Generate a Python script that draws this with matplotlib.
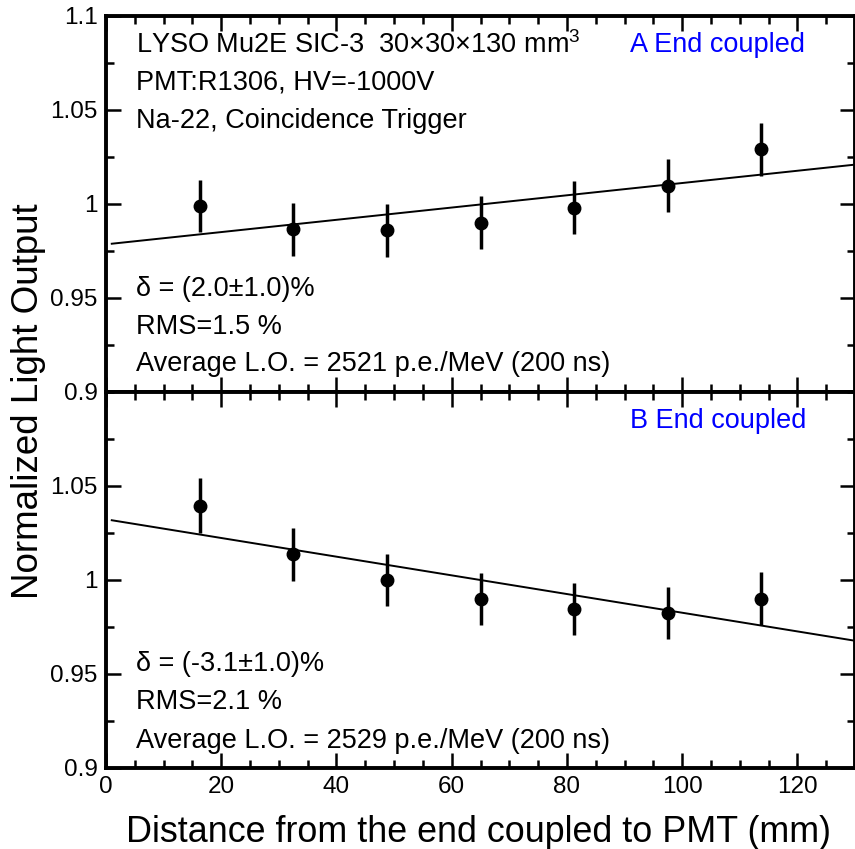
import matplotlib
matplotlib.use('Agg')
import matplotlib.pyplot as plt
from matplotlib.ticker import MultipleLocator, FuncFormatter
import numpy as np

plt.rcParams['font.family'] = ['Liberation Sans', 'DejaVu Sans']
plt.rcParams['mathtext.fontset'] = 'custom'
plt.rcParams['mathtext.rm'] = 'Liberation Sans'

# measurement positions (mm) and normalized light output
distance = [16.25, 32.5, 48.75, 65.0, 81.25, 97.5, 113.75]
lo_a = [0.999, 0.9865, 0.986, 0.990, 0.998, 1.0097, 1.029]
err_a = [0.014, 0.014, 0.014, 0.014, 0.014, 0.014, 0.014]
lo_b = [1.0395, 1.0136, 1.0, 0.9898, 0.9845, 0.9824, 0.9901]
err_b = [0.0145, 0.014, 0.014, 0.014, 0.014, 0.014, 0.014]

header_lines = ['LYSO Mu2E SIC-3  30\u00d730\u00d7130 mm$^3$',
                'PMT:R1306, HV=-1000V',
                'Na-22, Coincidence Trigger']
stats_a = ['\u03b4 = (2.0\u00b11.0)%', 'RMS=1.5 %',
           'Average L.O. = 2521 p.e./MeV (200 ns)']
stats_b = ['\u03b4 = (-3.1\u00b11.0)%', 'RMS=2.1 %',
           'Average L.O. = 2529 p.e./MeV (200 ns)']

fig = plt.figure(figsize=(8.55, 8.49), dpi=100)
left, right = 106 / 855, 1.0
ax_a = fig.add_axes([left, 1 - 392 / 849, right - left, 376 / 849])
ax_b = fig.add_axes([left, 1 - 768 / 849, right - left, 376 / 849], sharex=ax_a)

fmt = FuncFormatter(lambda v, p: f'{v:g}')

for ax, lo, err in [(ax_a, lo_a, err_a), (ax_b, lo_b, err_b)]:
    ax.errorbar(distance, lo, yerr=err, fmt='o', color='black', ms=9,
                elinewidth=2.5, capsize=0, zorder=3)
    # straight-line fit through the points
    k, b = np.polyfit(distance, lo, 1)
    xs = np.array([1.0, 130.0])
    ax.plot(xs, k * xs + b, color='black', lw=1.4, zorder=2)

    ax.set_xlim(0, 130)
    ax.set_ylim(0.9, 1.1)
    ax.xaxis.set_major_locator(MultipleLocator(20))
    ax.xaxis.set_minor_locator(MultipleLocator(5))
    ax.yaxis.set_major_locator(MultipleLocator(0.05))
    ax.yaxis.set_minor_locator(MultipleLocator(0.025))
    ax.yaxis.set_major_formatter(fmt)
    ax.tick_params(which='both', direction='in', top=True, right=True,
                   width=1.8, labelsize=17.5, colors='black')
    ax.tick_params(which='major', length=11, pad=6)
    ax.tick_params(which='minor', length=6)
    for s in ax.spines.values():
        s.set_linewidth(2.8)

ax_a.tick_params(axis='x', labelbottom=False)
ax_b.set_yticks([0.9, 0.95, 1.0, 1.05])

for t, y in zip(header_lines, [0.923, 0.824, 0.721]):
    ax_a.text(0.04, y, t, transform=ax_a.transAxes, fontsize=19.5, va='center')
for t, y in zip(stats_a, [0.274, 0.173, 0.074]):
    ax_a.text(0.04, y, t, transform=ax_a.transAxes, fontsize=19.5, va='center')
for t, y in zip(stats_b, [0.277, 0.176, 0.072]):
    ax_b.text(0.04, y, t, transform=ax_b.transAxes, fontsize=19.5, va='center')

ax_a.text(0.70, 0.923, 'A End coupled', transform=ax_a.transAxes,
          fontsize=19.5, va='center', color='#0000ff')
ax_b.text(0.70, 0.923, 'B End coupled', transform=ax_b.transAxes,
          fontsize=19.5, va='center', color='#0000ff')

fig.text(28 / 855, 1 - 401 / 849, 'Normalized Light Output', rotation=90,
         fontsize=26.5, ha='center', va='center')
fig.text(478 / 855, 1 - 832 / 849, 'Distance from the end coupled to PMT (mm)',
         fontsize=25.8, ha='center', va='center')

fig.savefig('out.png', dpi=100)
